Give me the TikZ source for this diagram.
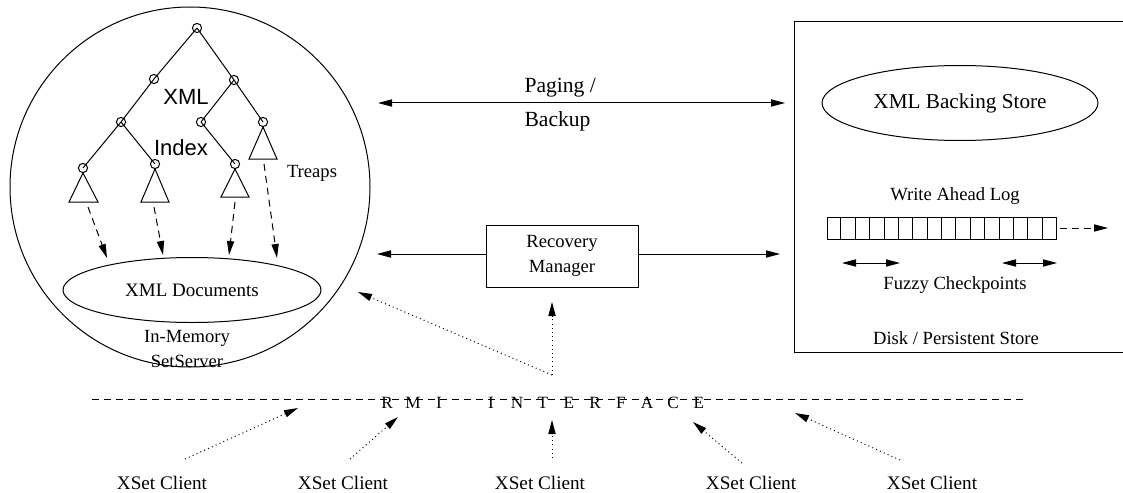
\documentclass[tikz,border=0pt]{standalone}
\usepackage{fontspec}
\setmainfont{Liberation Serif}
\newfontfamily\hv{Liberation Sans}
\usetikzlibrary{arrows.meta,shapes.geometric,calc}
\newcommand\rmiL[1]{\makebox[13pt]{#1}}
\begin{document}
\begin{tikzpicture}[x=0.5pt,y=-0.5pt,line width=0.5pt,
  tipd/.style={-{Triangle[length=7pt,width=3.6pt]}},
  btip/.style={{Triangle[length=7pt,width=3.6pt]}-{Triangle[length=7pt,width=3.6pt]}},
  dsh/.style={dash pattern=on 3.5pt off 2.5pt},
  dotline/.style={dash pattern=on 0.5pt off 1.6pt},
  tnode/.style={circle,draw,minimum size=4.6pt,inner sep=0pt},
  lbl/.style={font=\fontsize{9.3}{12.5}\selectfont,inner sep=0pt},
  big/.style={font=\fontsize{10.6}{16}\selectfont,inner sep=0pt},
  sans/.style={font=\hv\fontsize{11}{13}\selectfont,inner sep=0pt},
  client/.style={font=\fontsize{9.6}{11}\selectfont,inner sep=0pt}]
\useasboundingbox (0,0) rectangle (1123,492);

% in-memory set server
\node[circle,draw,minimum size=180pt,inner sep=0pt] (mem) at (190,187) {};

% tree
\node[tnode] (r) at (197,28) {};
\node[tnode] (a) at (154,79) {};
\node[tnode] (b) at (234,80) {};
\node[tnode] (c) at (121,122) {};
\node[tnode] (d) at (201,122) {};
\node[tnode] (e) at (263,122) {};
\node[tnode] (f) at (83,168) {};
\node[tnode] (g) at (155,164) {};
\node[tnode] (h) at (235,164) {};
\draw (r.center) -- (a.center) (r.center) -- (b.center)
      (a.center) -- (c.center) (c.center) -- (f.center) (c.center) -- (g.center)
      (b.center) -- (d.center) (b.center) -- (e.center) (d.center) -- (h.center);

% treaps
\draw (83,173) -- (69,202) -- (98,202) -- cycle;
\draw (155,169) -- (141,202) -- (169,202) -- cycle;
\draw (235,169) -- (221,197) -- (249,197) -- cycle;
\draw (263,127) -- (249,159) -- (277,159) -- cycle;
\coordinate (t1) at (88,207);
\coordinate (t2) at (154,207);
\coordinate (t3) at (235,202);
\coordinate (t4) at (264,164);

\node[sans] (xml) at (186,97) {XML};
\node[sans] (idx) at (181,148) {Index};
\node[lbl] (treaps) at (312,173) {Treaps};

% documents
\node[ellipse,draw,minimum width=129pt,minimum height=32.5pt,inner sep=0pt,
      font=\fontsize{9.5}{11}\selectfont] (docs) at (192,290) {XML Documents};
\coordinate (d1) at (107,258);
\coordinate (d2) at (163,255);
\coordinate (d3) at (229,255);
\coordinate (d4) at (277,258);
\draw[dsh,tipd] (t1) -- (d1);
\draw[dsh,tipd] (t2) -- (d2);
\draw[dsh,tipd] (t3) -- (d3);
\draw[dsh,tipd] (t4) -- (d4);

\node[lbl,align=center] (inmem) at (187,349) {In-Memory\\SetServer};

% paging
\coordinate (pl) at (378,103);
\coordinate (pr) at (785,103);
\draw[btip] (pl) -- (pr);
\node[font=\fontsize{10.8}{13}\selectfont,inner sep=0pt,anchor=west] (pg) at (524,88) {Paging /};
\node[font=\fontsize{10.8}{13}\selectfont,inner sep=0pt,anchor=west] (bk) at (524,121) {Backup};

% disk (right side runs past the picture edge)
\node[draw,minimum width=166pt,minimum height=165pt,inner sep=0pt] (disk) at (960,187) {};
\node[ellipse,draw,minimum width=138pt,minimum height=37.5pt,inner sep=0pt,big] (bs) at (960,103) {XML Backing Store};
\node[lbl] (wal) at (955,196) {Write Ahead Log};
\node[draw,minimum width=114.5pt,minimum height=11pt,inner sep=0pt] (log) at (941.5,228) {};
\foreach \i in {1,...,15} \draw ($(log.north west)!\i/16!(log.north east)$) -- ($(log.south west)!\i/16!(log.south east)$);
\coordinate (lgs) at (1060,228);
\coordinate (lge) at (1108,228);
\draw[dsh,tipd] (lgs) -- (lge);
\coordinate (f1a) at (842,263);
\coordinate (f1b) at (900,263);
\coordinate (f2a) at (1002,263);
\coordinate (f2b) at (1057,263);
\draw[btip] (f1a) -- (f1b);
\draw[btip] (f2a) -- (f2b);
\node[lbl] (fz) at (955,285) {Fuzzy Checkpoints};
\node[lbl] (dps) at (956,338) {Disk / Persistent Store};

% recovery manager
\node[draw,minimum width=76pt,minimum height=31pt,inner sep=0pt,lbl,align=center] (rm) at (562,256) {Recovery\\Manager};
\coordinate (rml) at (377,254);
\coordinate (rmr) at (780,254);
\draw[tipd] (rm.west |- rml) -- (rml);
\draw[tipd] (rm.east |- rmr) -- (rmr);

% rmi
\coordinate (hub) at (552,375);
\coordinate (hubu) at (552,302);
\coordinate (hubl) at (358,292);
\draw[dotline,tipd] (hub) -- (hubu);
\draw[dotline,tipd] (hub) -- (hubl);

\coordinate (rmia) at (92,399);
\coordinate (rmib) at (1027,399);
\draw[dsh] (rmia) -- (rmib);
\node[font=\fontsize{8.6}{10}\selectfont,inner sep=0pt,anchor=base] (rmi) at (543,408)
  {\rmiL{R}\rmiL{M}\rmiL{I}\rmiL{}\rmiL{I}\rmiL{N}\rmiL{T}\rmiL{E}\rmiL{R}\rmiL{F}\rmiL{A}\rmiL{C}\rmiL{E}};

% clients
\node[client] (cl1) at (162,483) {XSet Client};
\node[client] (cl2) at (343,483) {XSet Client};
\node[client] (cl3) at (540,483) {XSet Client};
\node[client] (cl4) at (751,483) {XSet Client};
\node[client] (cl5) at (932,483) {XSet Client};
\coordinate (s1) at (185,459); \coordinate (e1) at (298,408);
\coordinate (s2) at (350,459); \coordinate (e2) at (398,417);
\coordinate (s3) at (552,458); \coordinate (e3) at (552,420);
\coordinate (s4) at (742,463); \coordinate (e4) at (693,422);
\coordinate (s5) at (900,460); \coordinate (e5) at (795,413);
\foreach \k in {1,...,5} \draw[dotline,tipd] (s\k) -- (e\k);
\end{tikzpicture}
\end{document}
